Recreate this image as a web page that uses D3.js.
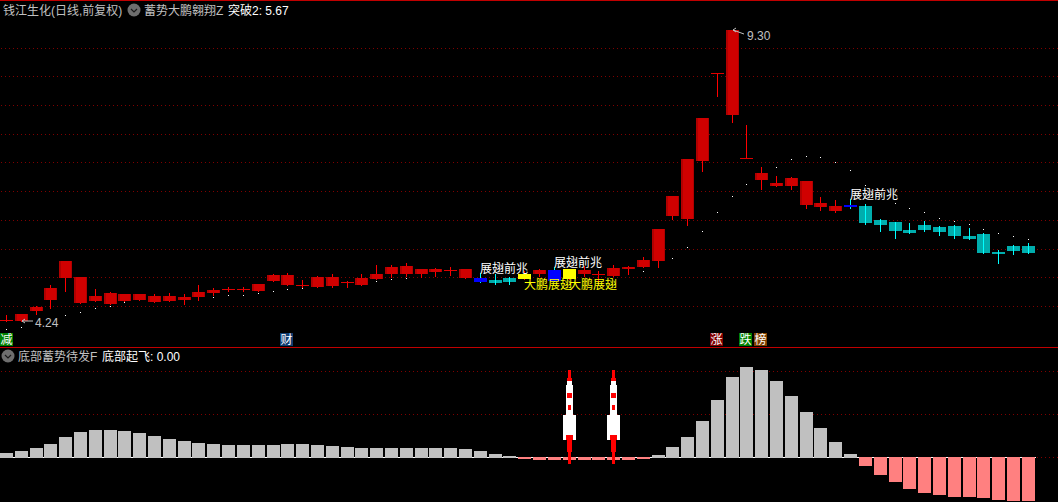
<!DOCTYPE html>
<html><head><meta charset="utf-8">
<script src="https://cdn.jsdelivr.net/npm/d3@7/dist/d3.min.js"></script>
<style>html,body{margin:0;padding:0;background:#000;overflow:hidden}svg{display:block}text{font-family:"Liberation Sans","Noto Sans CJK SC",sans-serif;font-size:12px}</style>
</head><body><svg id="c" width="1058" height="502"></svg>
<script>
const opens=[4.278,4.26,4.434,4.625,5.007,4.573,4.608,4.556,4.608,4.625,4.59,4.608,4.625,4.677,4.747,4.816,4.816,4.781,4.955,4.885,4.885,4.851,4.868,4.938,4.885,4.99,5.076,5.076,5.076,5.111,5.146,5.007,4.938,4.972,5.007,4.99,5.076,4.955,4.99,5.076,5.076,5.042,5.163,5.198,5.302,6.083,6.031,7.038,8.566,7.837,7.09,6.708,6.604,6.604,6.274,6.24,6.17,6.24,6.257,6.014,5.979,5.84,5.927,5.892,5.91,5.736,5.771,5.458,5.562,5.562];
const highs=[4.365,4.382,4.521,4.885,5.302,5.024,4.816,4.764,4.729,4.729,4.729,4.747,4.729,4.885,4.833,4.851,4.851,4.903,5.076,5.094,4.972,5.042,5.076,4.955,5.076,5.233,5.233,5.267,5.163,5.181,5.198,5.163,5.094,5.076,5.024,5.128,5.163,5.198,5.163,5.215,5.128,5.233,5.215,5.372,5.858,6.431,7.073,7.785,8.566,9.313,7.663,6.934,6.778,6.76,6.691,6.413,6.361,6.378,6.292,6.031,5.979,5.962,5.997,5.91,5.927,5.875,5.788,5.493,5.58,5.615];
const lows=[4.26,4.26,4.382,4.486,4.781,4.573,4.608,4.556,4.608,4.625,4.59,4.608,4.556,4.625,4.712,4.781,4.781,4.781,4.955,4.885,4.851,4.851,4.851,4.851,4.885,4.99,5.024,5.042,5.024,5.042,5.059,5.007,4.938,4.903,4.903,4.99,5.042,4.955,4.99,5.042,4.903,5.042,5.076,5.198,5.198,6.031,5.927,6.865,8.167,7.715,7.09,6.552,6.604,6.552,6.222,6.188,6.153,6.222,5.944,5.823,5.701,5.788,5.823,5.753,5.701,5.684,5.441,5.267,5.424,5.441];
const closes=[4.278,4.382,4.503,4.833,5.302,5.024,4.694,4.747,4.729,4.729,4.694,4.694,4.677,4.764,4.799,4.816,4.816,4.903,5.059,5.059,4.885,5.024,5.024,4.938,5.007,5.076,5.198,5.215,5.163,5.163,5.146,5.163,5.007,4.92,4.938,5.076,5.146,5.146,5.163,5.146,5.076,5.181,5.198,5.319,5.858,6.431,7.073,7.785,8.566,9.313,7.09,6.83,6.656,6.743,6.691,6.309,6.257,6.274,5.962,5.927,5.823,5.788,5.84,5.806,5.736,5.684,5.441,5.424,5.476,5.441];
const blueDays=[32,37,57];
const yellowDays=[35,38];
const trail=[4.122,4.156,null,null,4.365,4.417,4.486,4.521,4.59,4.625,null,null,null,null,4.677,4.712,4.712,4.747,4.781,4.816,4.833,null,null,null,null,4.955,4.99,5.007,5.024,5.042,5.059,null,null,null,null,null,null,null,null,5.059,null,null,5.094,5.128,5.215,5.354,5.545,5.823,6.153,6.431,6.639,null,6.934,7.073,7.125,7.108,7.021,6.882,6.622,6.465,6.309,6.222,6.153,6.049,5.997,5.944,5.858,5.788,5.736,5.684];
const gridLevels=[9,8.51,8.01,7.51,7.02,6.51,6.01,5.51,5.02,4.52];
const hist=[4,6,9,13,20,25,27,27,26,24,21,18,16,14,13,12,12,12,12,13,13,12,11,10,9,9,9,9,9,9,9,8,6,3,1,-2,-3,-3,-3,-3,-3,-3,-3,-2,2,10,20,36,57,80,90,87,76,61,45,29,15,3,-9,-18,-25,-32,-36,-38,-40,-40,-41,-43,-44,-44];
const subGrid=[86,43,0];
const rocketDays=[38,41];
const rocketBottoms=[17,42,72,76,79,59,47,17,5,-7];
const rocketTops=[42,72,76,79,87,64,52,22,17,5];
const rocketWidths=[13,7,5,5,3,5,3,7,5,3];
const rocketFills=["#fff","#fff","#fff","#f00","#f00","#f00","#f00","#f00","#f00","#f00"];
const signalText="展翅前兆", signalDays=[32,37,57], signalPrices=[5.094,5.198,6.378];
const wingText="大鹏展翅", wingDays=[35,38], wingPrices=[4.816,4.816];
const newsLabels=["减","财","涨","跌","榜"], newsDays=[0,19,48,50,51], newsFills=["#008000","#103c70","#800000","#008000","#804000"];
const titleParts=[["钱江生化(日线,前复权)",3,"#c0c0c0"],["蓄势大鹏翱翔Z",144,"#c0c0c0"],["突破2: 5.67",228,"#fff"]];
const subTitleParts=[["底部蓄势待发F",18,"#c0c0c0"],["底部起飞: 0.00",102,"#fff"]];

const svg=d3.select("#c");
const days=d3.range(70);
const band=d3.scaleBand().domain(days).range([-0.955,1035.745]);
const cx=i=>Math.floor(band(i)+band.bandwidth()/2);
const y=d3.scaleLinear().domain([4.5,9]).range([307.2,48]);
const ry=v=>Math.round(y(v));
const s=d3.scaleLinear().domain([0,100]).range([457,357]);
const rs=v=>Math.round(s(v));
const W=1058;
function rect(g,x,yy,w,h,f){return g.append("rect").attr("x",x).attr("y",yy).attr("width",w).attr("height",Math.max(h,0)).attr("fill",f).attr("shape-rendering","crispEdges");}
rect(svg,0,0,W,502,"#000");
rect(svg,0,0,W,1,"#c00000");
rect(svg,0,347,W,1,"#c00000");
const grid=svg.append("g");
function dotted(yy){d3.range(1,W,4).forEach(x=>rect(grid,x,yy,1,1,"#800000"));}
gridLevels.forEach(p=>dotted(ry(p)));
subGrid.forEach(v=>dotted(rs(v)));

// trailing dots
const dotsG=svg.append("g");
days.forEach(i=>{if(trail[i]!=null)rect(dotsG,cx(i),ry(trail[i]),1,1,"#fff");});

// candles
const cG=svg.append("g");
days.forEach(i=>{
  const o=opens[i],c=closes[i],top=ry(Math.max(o,c)),bot=ry(Math.min(o,c)),x=cx(i);
  const isBlue=blueDays.includes(i),isYellow=yellowDays.includes(i),down=c<o;
  const wick=(isBlue||down)?"#00ffff":"#f00";
  rect(cG,x,ry(highs[i]),1,ry(lows[i])-ry(highs[i])+1,wick);
  if(isBlue){rect(cG,x-6,top,13,Math.max(bot-top,2),"#0000ff");return;}
  if(isYellow){rect(cG,x-6,top,13,bot-top,"#ffff00");return;}
  if(top===bot){rect(cG,x-6,top,13,1,"#e00000");return;}
  if(down){rect(cG,x-6,top,13,bot-top,"#00adad");rect(cG,x,top,1,bot-top,"#00ffff");}
  else{rect(cG,x-6,top,13,bot-top,"#b00000");rect(cG,x-4,top,10,bot-top,"#d00000");}
});

// extreme markers
const gray="#c0c0c0";
function marker(i,p,label,dx,dy,dirUp){
  const x0=cx(i)+1,yy=ry(p);
  const ax=svg.append("g").attr("fill","none").attr("stroke",gray).attr("stroke-width",1);
  ax.append("path").attr("d",`M${x0+11},${yy+(dirUp?4:0)}L${x0},${yy}M${x0+3},${yy-2}L${x0},${yy}L${x0+3},${yy+2}`);
  svg.append("text").attr("x",x0+dx).attr("y",yy+dy).attr("fill",gray).text(label);
}
marker(49,9.313,"9.30",14,10,true);
marker(1,4.26,"4.24",13,6,false);

// signal labels
signalDays.forEach((d,k)=>svg.append("text").attr("x",cx(d)).attr("y",ry(signalPrices[k])).attr("fill","#fff").text(signalText));
wingDays.forEach((d,k)=>svg.append("text").attr("x",cx(d)).attr("y",ry(wingPrices[k])).attr("fill","#ffff00").text(wingText));

// news flags
newsLabels.forEach((t,k)=>{
  const x=Math.max(cx(newsDays[k])-7,0);
  rect(svg,x,333,13,13,newsFills[k]);
  svg.append("text").attr("x",x+6.5).attr("y",344).attr("text-anchor","middle").attr("fill","#fff").text(t);
});

// histogram
rect(svg,0,457,1036,1,"#fff");
days.forEach(i=>{
  const v=hist[i],x=cx(i)-6;
  if(v>=0)rect(svg,x,rs(v),13,458-rs(v),"#c0c0c0");
  else rect(svg,x,457,13,rs(v)-457,"#ff8080");
});
rocketDays.forEach(d=>{
  rocketTops.forEach((t,k)=>{
    const w=rocketWidths[k];
    rect(svg,cx(d)-Math.floor(w/2),rs(t),w,rs(rocketBottoms[k])-rs(t),rocketFills[k]);
  });
});

// titles
function chevron(x,yy){
  svg.append("circle").attr("cx",x).attr("cy",yy).attr("r",6.5).attr("fill","#6e6e6e");
  svg.append("path").attr("d",`M${x-3},${yy-1}L${x},${yy+2}L${x+3},${yy-1}`).attr("fill","none").attr("stroke","#1a1a1a").attr("stroke-width",1.2);
}
chevron(134,10);chevron(8,356);
titleParts.forEach(t=>svg.append("text").attr("x",t[1]).attr("y",15).attr("fill",t[2]).text(t[0]));
subTitleParts.forEach(t=>svg.append("text").attr("x",t[1]).attr("y",361).attr("fill",t[2]).text(t[0]));
</script></body></html>
